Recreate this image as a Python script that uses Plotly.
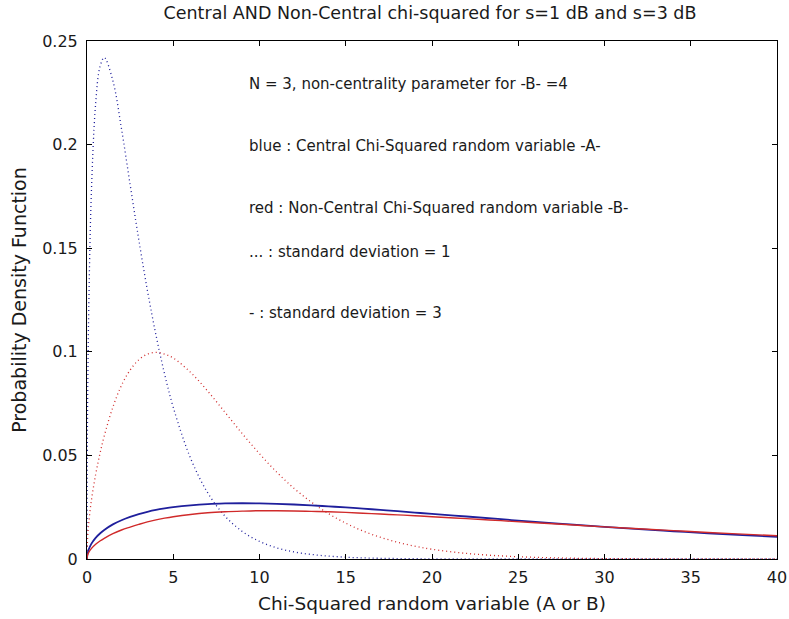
import plotly.graph_objects as go

# Sample points of the chi-squared random variable
x = [0, 0.02, 0.05, 0.1, 0.25, 0.5, 0.75, 1, 1.5, 2, 2.5, 3, 3.5, 4, 4.5, 5,
     6, 7, 8, 9, 10, 11, 12, 13, 14, 15, 16, 17, 18, 19, 20,
     22, 24, 26, 28, 30, 32, 34, 36, 38, 40]

# Central chi-squared, N = 3, standard deviation 1 (blue dotted)
central_s1 = [0, 0.0559, 0.0870, 0.1200, 0.1760, 0.2197, 0.2375, 0.2420, 0.2308,
              0.2076, 0.1807, 0.1542, 0.1297, 0.1080, 0.0892, 0.0732,
              0.0487, 0.0319, 0.0207, 0.0133, 0.0085, 0.0054, 0.0034, 0.0022,
              0.0014, 0.00085, 0.00053, 0.00034, 0.00021, 0.00013, 0.00008,
              0.00003, 0.00001, 0, 0, 0, 0, 0, 0, 0, 0]

# Non-central chi-squared, N = 3, non-centrality 4, standard deviation 1 (red dotted)
noncentral_s1 = [0, 0.0077, 0.0122, 0.0173, 0.0280, 0.0407, 0.0508, 0.0594, 0.0733,
                 0.0838, 0.0912, 0.0961, 0.0989, 0.0997, 0.0989, 0.0970,
                 0.0901, 0.0810, 0.0708, 0.0605, 0.0508, 0.0419, 0.0341, 0.0275,
                 0.0219, 0.0173, 0.0135, 0.0105, 0.0081, 0.0062, 0.0047,
                 0.0027, 0.0015, 0.0008, 0.0004, 0.0002, 0.0001, 0.00005, 0.00003,
                 0.00002, 0.00001]

# Central chi-squared, standard deviation 3 (blue solid)
central_s3 = [0, 0.0021, 0.0033, 0.0046, 0.0073, 0.0102, 0.0123, 0.0140, 0.0167,
              0.0187, 0.0203, 0.0217, 0.0228, 0.0237, 0.0244, 0.0250,
              0.0259, 0.0265, 0.0268, 0.0269, 0.0268, 0.0266, 0.0263, 0.0259,
              0.0254, 0.0249, 0.0243, 0.0237, 0.0231, 0.0224, 0.0218,
              0.0205, 0.0192, 0.0179, 0.0167, 0.0155, 0.0144, 0.0134, 0.0124,
              0.0115, 0.0107]

# Non-central chi-squared, standard deviation 3 (red solid)
noncentral_s3 = [0, 0.0015, 0.0023, 0.0032, 0.0050, 0.0071, 0.0087, 0.0100, 0.0122,
                 0.0140, 0.0154, 0.0167, 0.0179, 0.0189, 0.0197, 0.0204,
                 0.0215, 0.0223, 0.0228, 0.0231, 0.0233, 0.0233, 0.0232, 0.0230,
                 0.0228, 0.0225, 0.0221, 0.0217, 0.0213, 0.0209, 0.0204,
                 0.0195, 0.0185, 0.0175, 0.0165, 0.0155, 0.0146, 0.0137, 0.0128,
                 0.0120, 0.0112]

x_ticks = [0, 5, 10, 15, 20, 25, 30, 35, 40]
y_ticks = [0, 0.05, 0.1, 0.15, 0.2, 0.25]
y_tick_text = ["0", "0.05", "0.1", "0.15", "0.2", "0.25"]

notes = [
    (9.3, 0.2293, "N = 3, non-centrality parameter for -B- =4"),
    (9.3, 0.1993, "blue : Central Chi-Squared random variable -A-"),
    (9.3, 0.1694, "red : Non-Central Chi-Squared random variable -B-"),
    (9.3, 0.1482, "... : standard deviation = 1"),
    (9.3, 0.1187, "- : standard deviation = 3"),
]

BLUE = "#1f1f9c"
RED = "#d02a2a"
FONT = "DejaVu Sans, Liberation Sans, Arial, sans-serif"
TEXT = "#1a1a1a"

fig = go.Figure()
fig.add_trace(go.Scatter(x=x, y=central_s1, mode="lines",
                         line=dict(color=BLUE, width=1.3, dash="1px,3px", shape="spline")))
fig.add_trace(go.Scatter(x=x, y=noncentral_s1, mode="lines",
                         line=dict(color=RED, width=1.3, dash="1px,3px", shape="spline")))
fig.add_trace(go.Scatter(x=x, y=central_s3, mode="lines",
                         line=dict(color=BLUE, width=1.8, shape="spline")))
fig.add_trace(go.Scatter(x=x, y=noncentral_s3, mode="lines",
                         line=dict(color=RED, width=1.4, shape="spline")))

for nx, ny, txt in notes:
    fig.add_annotation(x=nx, y=ny, text=txt, showarrow=False, xanchor="left",
                       yanchor="middle", font=dict(family=FONT, size=15, color=TEXT))

axis_common = dict(
    showline=True, linecolor="black", linewidth=1, mirror="ticks",
    ticks="inside", ticklen=5, tickcolor="black", showgrid=False, zeroline=False,
    automargin=False,
    tickfont=dict(family=FONT, size=16, color=TEXT),
)

fig.update_layout(
    width=789, height=619,
    margin=dict(l=87, r=12, t=41, b=60),
    paper_bgcolor="white", plot_bgcolor="white",
    showlegend=False,
    title=dict(text="Central AND Non-Central chi-squared for s=1 dB and s=3 dB",
               x=430 / 789, xanchor="center", y=1 - 13 / 619, yanchor="middle",
               font=dict(family=FONT, size=17.5, color=TEXT)),
    xaxis=dict(range=[0, 40], tickvals=x_ticks, ticklabelstandoff=4,
               title=dict(text="Chi-Squared random variable (A or B)", standoff=10,
                          font=dict(family=FONT, size=18.5, color=TEXT)),
               **axis_common),
    yaxis=dict(range=[0, 0.25], tickvals=y_ticks, ticktext=y_tick_text,
               ticklabelstandoff=5,
               title=dict(text="Probability Density Function", standoff=10,
                          font=dict(family=FONT, size=19, color=TEXT)),
               **axis_common),
)

fig.write_html("out.html")
